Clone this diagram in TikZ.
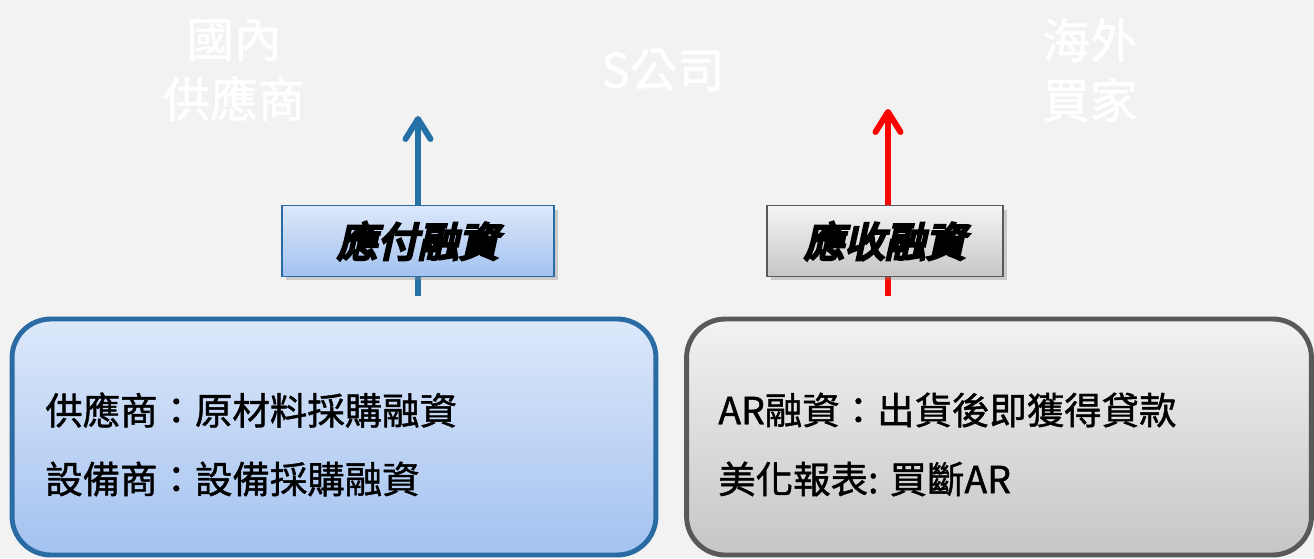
\documentclass[tikz,border=0pt]{standalone}
\usepackage{fontspec}
\newfontfamily\cjk{Noto Sans CJK TC}
\newfontfamily\cjkbody[FakeBold=1.2]{Noto Sans CJK TC}
\newfontfamily\cjklabel[FakeSlant=0.22,FakeBold=7]{Noto Sans CJK TC}
\usetikzlibrary{arrows.meta,shadows}
\definecolor{bg}{HTML}{F2F2F2}
\definecolor{bluedge}{HTML}{2A6BA3}
\definecolor{bluearrow}{HTML}{2471A8}
\definecolor{bluetop}{HTML}{DDE8FA}
\definecolor{bluebot}{HTML}{A3C2F0}
\definecolor{grayedge}{HTML}{595959}
\definecolor{graytop}{HTML}{F2F2F2}
\definecolor{graybot}{HTML}{C6C6C6}
\tikzset{
  toptext/.style={text=white, font=\cjkbody\fontsize{27}{34}\selectfont, align=center, inner sep=0pt},
  bigbox/.style={draw, line width=2.8pt, rounded corners=22pt, minimum width=#1, minimum height=4.72cm, shading=axis, shading angle=0, inner sep=0pt},
  labelbox/.style={draw, line width=0.8pt, minimum width=#1, minimum height=1.42cm, shading=axis, shading angle=0, drop shadow={opacity=0.35, shadow xshift=0.8mm, shadow yshift=-0.8mm}, font=\cjklabel\fontsize{23}{28}\selectfont, text=black, inner sep=0pt},
  bodytext/.style={anchor=west, font=\cjkbody\fontsize{21.3}{24}\selectfont, text=black, inner sep=0pt},
  uparrow/.style={line width=3.4pt, -{Straight Barb[length=4mm, width=5mm, line cap=round, line join=round]}}
}
\begin{document}
\begin{tikzpicture}[x=0.02cm,y=-0.02cm]
\fill[bg] (0,0) rectangle (1314,558);
\useasboundingbox (0,0) rectangle (1314,558);
% top white labels
\node[toptext] (domestic) at (234,70) {國內\\供應商};
\node[toptext] (scompany) at (663,70) {S公司};
\node[toptext] (overseas) at (1090,70) {海外\\買家};
% arrows
\coordinate (ablue0) at (418,296);
\coordinate (ablue1) at (418,116);
\coordinate (ared0) at (888,296);
\coordinate (ared1) at (888,109);
\draw[uparrow, draw=bluearrow] (ablue0) -- (ablue1);
\draw[uparrow, draw=red] (ared0) -- (ared1);
% label boxes
\node[labelbox=5.44cm, draw=bluedge, top color=bluetop, bottom color=bluebot] (ap) at (418,241) {應付融資};
\node[labelbox=4.72cm, draw=grayedge, top color=graytop!80!white, bottom color=graybot] (ar) at (885,241) {應收融資};
% big boxes
\node[bigbox=12.88cm, draw=bluedge, top color=bluetop, bottom color=bluebot] (leftbox) at (334,437) {};
\node[bigbox=12.5cm, draw=grayedge, top color=graytop, bottom color=graybot] (rightbox) at (999,437) {};
% body text
\node[bodytext] (l1) at (45,410) {供應商：原材料採購融資};
\node[bodytext] (l2) at (45,479) {設備商：設備採購融資};
\node[bodytext] (r1) at (718,410) {AR融資：出貨後即獲得貸款};
\node[bodytext] (r2) at (718,479) {美化報表: 買斷AR};
\end{tikzpicture}
\end{document}
